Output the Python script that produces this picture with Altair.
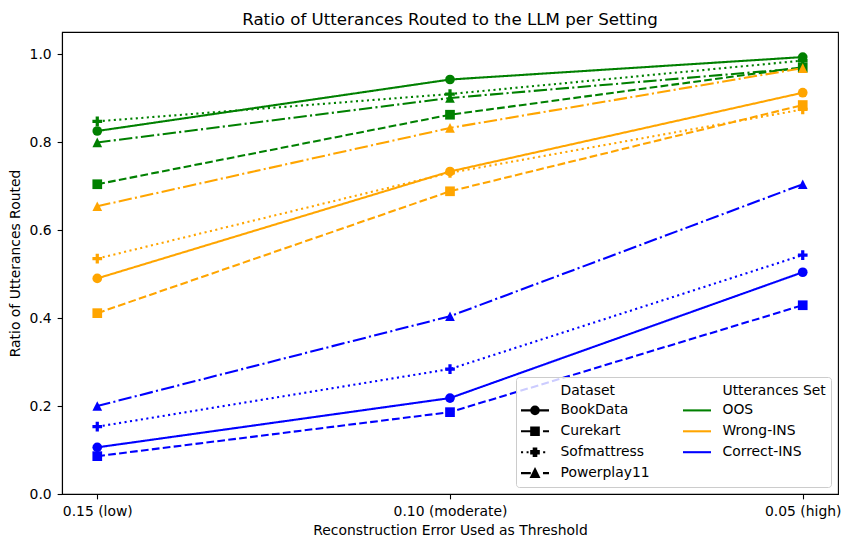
import altair as alt
import pandas as pd

# ---- data ----
thresholds = ["0.15 (low)", "0.10 (moderate)", "0.05 (high)"]
datasets = ["BookData", "Curekart", "Sofmattress", "Powerplay11"]
utterance_sets = ["OOS", "Wrong-INS", "Correct-INS"]

oos_bookdata = [0.825, 0.942, 0.993]
oos_curekart = [0.704, 0.862, 0.970]
oos_sofmattress = [0.847, 0.909, 0.985]
oos_powerplay11 = [0.799, 0.900, 0.968]

wrong_bookdata = [0.490, 0.733, 0.912]
wrong_curekart = [0.411, 0.688, 0.884]
wrong_sofmattress = [0.535, 0.730, 0.874]
wrong_powerplay11 = [0.654, 0.832, 0.968]

correct_bookdata = [0.106, 0.218, 0.504]
correct_curekart = [0.086, 0.186, 0.429]
correct_sofmattress = [0.153, 0.284, 0.543]
correct_powerplay11 = [0.200, 0.404, 0.704]

series = {
    ("OOS", "BookData"): oos_bookdata,
    ("OOS", "Curekart"): oos_curekart,
    ("OOS", "Sofmattress"): oos_sofmattress,
    ("OOS", "Powerplay11"): oos_powerplay11,
    ("Wrong-INS", "BookData"): wrong_bookdata,
    ("Wrong-INS", "Curekart"): wrong_curekart,
    ("Wrong-INS", "Sofmattress"): wrong_sofmattress,
    ("Wrong-INS", "Powerplay11"): wrong_powerplay11,
    ("Correct-INS", "BookData"): correct_bookdata,
    ("Correct-INS", "Curekart"): correct_curekart,
    ("Correct-INS", "Sofmattress"): correct_sofmattress,
    ("Correct-INS", "Powerplay11"): correct_powerplay11,
}

# legend entries (two-column legend, filled column by column)
legend_keys = ["Dataset", "BookData", "Curekart", "Sofmattress", "Powerplay11",
               "Utterances Set", "OOS", "Wrong-INS", "Correct-INS"]

# ---- styles ----
set_colors = ["#008000", "#ffa500", "#0000ff"]
dash_patterns = [[1, 0], [7.7, 3.3], [2.08, 3.44], [13.3, 3.3, 2.08, 3.3]]
plus_path = "M-0.333,-1H0.333V-0.333H1V0.333H0.333V1H-0.333V0.333H-1V-0.333H-0.333Z"
tri_path = "M0,-1L1,1H-1Z"
marker_shapes = ["circle", "square", plus_path, tri_path]

legend_colors = ["transparent", "black", "black", "black", "black",
                 "transparent", "#008000", "#ffa500", "#0000ff"]
flat = "M-2,0H2"
legend_shapes = [
    flat,
    "M-2,0H2M0.54,0A0.54,0.54,0,1,1,-0.54,0A0.54,0.54,0,1,1,0.54,0Z",
    "M-2,0H-0.6M1.14,0H2M-0.54,-0.54H0.54V0.54H-0.54Z",
    "M-2,0H-1.7M-1.2,0H-0.92M1.16,0H1.46"
    "M-0.18,-0.54H0.18V-0.18H0.54V0.18H0.18V0.54H-0.18V0.18H-0.54V-0.18H-0.18Z",
    "M-2,0H-0.6M1.14,0H2M0,-0.54L0.54,0.54H-0.54Z",
    flat,
    flat,
    flat,
    flat,
]

rows = []
for (s, d), vals in series.items():
    for i, (t, v) in enumerate(zip(thresholds, vals)):
        rows.append({"Threshold": t, "idx": i, "Ratio": v, "Dataset": d, "Set": s})
df = pd.DataFrame(rows)
legend_df = pd.DataFrame({"key": legend_keys})

FONT = "DejaVu Sans"

x_enc = alt.X(
    "Threshold:N", sort=thresholds,
    scale=alt.Scale(type="point", padding=0.1),
    axis=alt.Axis(title="Reconstruction Error Used as Threshold", labelAngle=0,
                  titlePadding=5),
)
y_enc = alt.Y(
    "Ratio:Q",
    scale=alt.Scale(domain=[0, 1.05], nice=False, zero=False),
    axis=alt.Axis(title="Ratio of Utterances Routed", values=[0, 0.2, 0.4, 0.6, 0.8, 1.0],
                  format=".1f", titlePadding=7),
)
color_enc = alt.Color("Set:N", scale=alt.Scale(domain=utterance_sets, range=set_colors), legend=None)

base = alt.Chart(df)

lines = base.mark_line(strokeWidth=2.08).encode(
    x=x_enc, y=y_enc, color=color_enc,
    strokeDash=alt.StrokeDash("Dataset:N", scale=alt.Scale(domain=datasets, range=dash_patterns),
                              legend=None),
    order=alt.Order("idx:Q"),
)

point_layers = []
for d, shp in zip(datasets, marker_shapes):
    point_layers.append(
        base.transform_filter(alt.datum.Dataset == d)
        .mark_point(filled=True, opacity=1, size=94, shape=shp, strokeWidth=0)
        .encode(x=x_enc, y=y_enc, color=color_enc)
    )

leg = alt.Legend(
    title=None, orient="bottom-right", offset=7, columns=2, columnPadding=28,
    rowPadding=3.9, padding=5, strokeColor="#cccccc", fillColor="rgba(255,255,255,0.8)",
    cornerRadius=3, labelFont=FONT, labelFontSize=13.9, labelColor="black",
    labelOffset=17, labelLimit=300, symbolSize=196, symbolOffset=5.5,
    symbolStrokeWidth=2.08,
)

legend_layer = (
    alt.Chart(legend_df)
    .transform_filter("false")
    .mark_point(filled=True, opacity=1, strokeWidth=2.08)
    .encode(
        fill=alt.Fill("key:N", scale=alt.Scale(domain=legend_keys, range=legend_colors), legend=leg),
        stroke=alt.Stroke("key:N", scale=alt.Scale(domain=legend_keys, range=legend_colors), legend=leg),
        shape=alt.Shape("key:N", scale=alt.Scale(domain=legend_keys, range=legend_shapes), legend=leg),
    )
)

chart = (
    alt.layer(lines, *point_layers, legend_layer)
    .properties(
        width=776, height=462,
        autosize="none",
        padding={"left": 54, "top": 24, "right": 3, "bottom": 45},
        title=alt.TitleParams("Ratio of Utterances Routed to the LLM per Setting",
                              font=FONT, fontSize=16.67, fontWeight="normal", color="black",
                              anchor="middle", baseline="bottom", offset=2, dy=16),
        background="white",
    )
    .configure_view(stroke="black", strokeWidth=1.1)
    .configure_axis(
        grid=False, domainColor="black", tickColor="black", labelColor="black",
        titleColor="black", labelFont=FONT, titleFont=FONT, labelFontSize=13.9,
        titleFontSize=13.9, titleFontWeight="normal", tickSize=4.86, labelPadding=6,
        domainWidth=1.1, tickWidth=1.1,
    )
)

chart.save("out.html", embed_options={"renderer": "svg", "actions": False})
